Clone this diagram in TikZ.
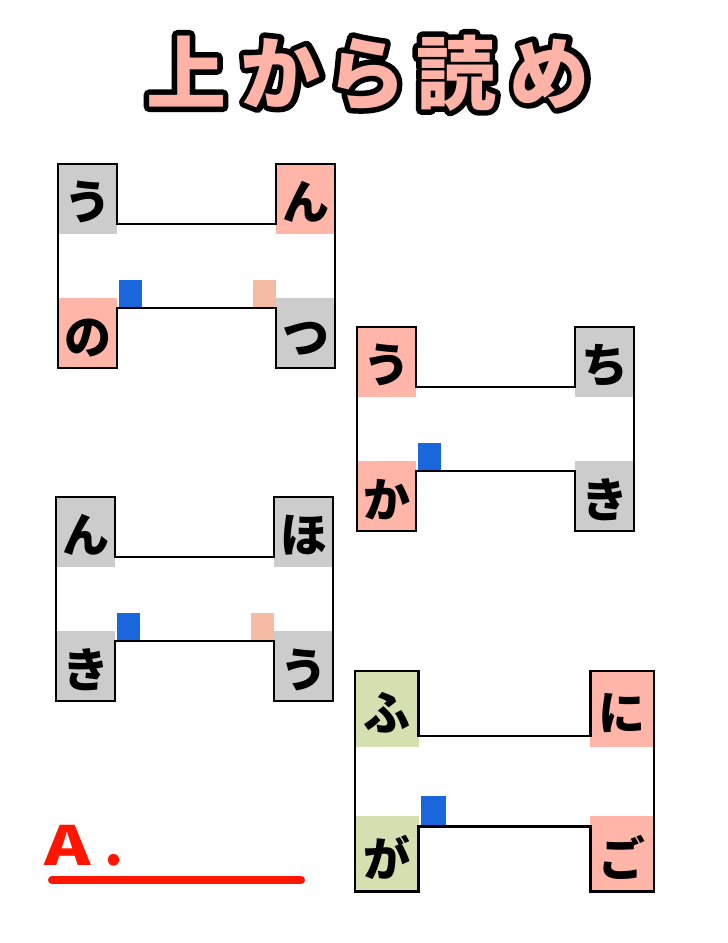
\documentclass[tikz,border=0pt]{standalone}
\usepackage{fontspec}
\newfontfamily\cjk{Noto Sans CJK JP}
\definecolor{cgray}{RGB}{204,204,204}
\definecolor{cpink}{RGB}{255,181,168}
\definecolor{cgreen}{RGB}{213,224,176}
\definecolor{cblue}{RGB}{25,102,221}
\definecolor{csalmon}{RGB}{246,187,164}
\definecolor{tpink}{RGB}{255,178,166}
\definecolor{cred}{RGB}{255,22,0}
\newcommand\strokeon{\special{pdf:literal direct 1 j 11 w 1 Tr}}
\newcommand\strokeoff{\special{pdf:literal direct 0 Tr 1 w 0 j}}
\newcommand\titletext{上\hspace{15pt}か\hspace{5pt}ら\hspace{10pt}読\hspace{14pt}め}
\tikzset{
  glyph/.style={font=\cjk\bfseries\fontsize{47}{47}\selectfont, anchor=base, inner sep=0pt},
  outl/.style={draw=black, line width=2.5pt, line join=miter},
  titlef/.style={font=\cjk\bfseries\fontsize{80}{80}\selectfont, anchor=base, inner sep=0pt},
}
\newcommand\hfig[9]{%
  \fill[#2] (0,0) rectangle (59,70);
  \fill[#4] (218,0) rectangle (277,70);
  \fill[#6] (0,134) rectangle (59,204);
  \fill[#8] (218,134) rectangle (277,204);
  \node[glyph] (#1tl) at (29.5,55) {#3};
  \node[glyph] (#1tr) at (247.5,55) {#5};
  \node[glyph] (#1bl) at (29.5,190) {#7};
  \node[glyph] (#1br) at (247.5,190) {#9};
  \draw[outl] (0,0) -- (59,0) -- (59,60) -- (218,60) -- (218,0) -- (277,0)
    -- (277,204) -- (218,204) -- (218,144) -- (59,144) -- (59,204) -- (0,204) -- cycle;
}
\newcommand\bluemark{\fill[cblue] (61,116) rectangle (84,144);}
\newcommand\salmonmark{\fill[csalmon] (195,116) rectangle (218,144);}
\begin{document}
\begin{tikzpicture}[x=1pt,y=-1pt]
\useasboundingbox[fill=white] (0,0) rectangle (728,943);
% title
\node[titlef, text=black] (titles) at (368,103) {\strokeon\titletext\strokeoff};
\node[titlef, text=tpink] (title) at (368,103) {\titletext};
% figure 1
\begin{scope}[shift={(58,164)}]
  \bluemark \salmonmark
  \hfig{a}{cgray}{う}{cpink}{ん}{cpink}{の}{cgray}{つ}
\end{scope}
% figure 2
\begin{scope}[shift={(357,327)}]
  \bluemark
  \hfig{b}{cpink}{う}{cgray}{ち}{cpink}{か}{cgray}{き}
\end{scope}
% figure 3
\begin{scope}[shift={(56,497)}]
  \bluemark \salmonmark
  \hfig{c}{cgray}{ん}{cgray}{ほ}{cgray}{き}{cgray}{う}
\end{scope}
% figure 4
\begin{scope}[shift={(355,671)}, scale=1.08]
  \bluemark
  \hfig{d}{cgreen}{ふ}{cpink}{に}{cgreen}{が}{cpink}{ご}
\end{scope}
% answer
\node[font=\cjk\bfseries\fontsize{54}{54}\selectfont, text=cred, anchor=base west, inner sep=0pt] (ans) at (44,865) {\scalebox{1.3}[1]{A}\hspace{14pt}.};
\coordinate (u1) at (52,880);
\coordinate (u2) at (301,880);
\draw[cred, line width=8pt, line cap=round] (u1) -- (u2);
\end{tikzpicture}
\end{document}
